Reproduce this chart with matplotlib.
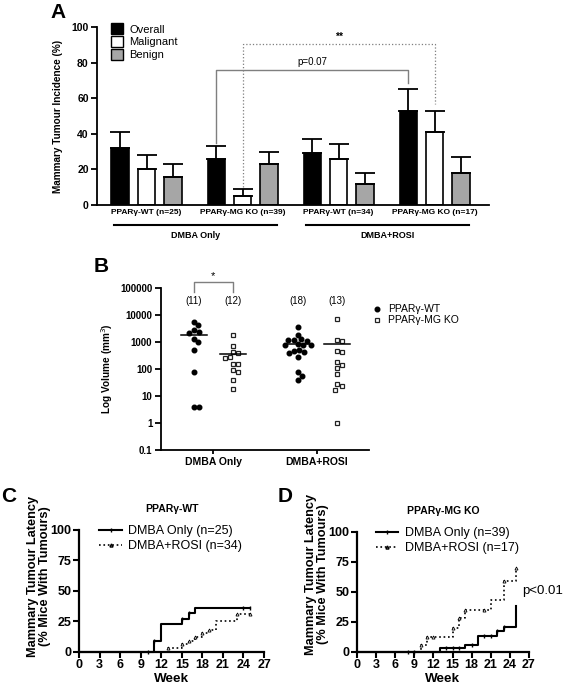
import numpy as np
import matplotlib
matplotlib.use('Agg')
import matplotlib.pyplot as plt
from matplotlib.patches import Patch
from matplotlib.lines import Line2D
from matplotlib.ticker import LogLocator, NullFormatter

plt.rcParams['font.family'] = ['Liberation Sans', 'DejaVu Sans']

# ---------------- DATA ----------------
# Panel A
groups_A = ['PPARγ-WT (n=25)', 'PPARγ-MG KO (n=39)', 'PPARγ-WT (n=34)', 'PPARγ-MG KO (n=17)']
treat_A = ['DMBA Only', 'DMBA+ROSI']
overall = [32, 26, 29, 53]
overall_err = [9, 7, 8, 12]
malignant = [20, 5, 26, 41]
malignant_err = [8, 4, 8, 12]
benign = [16, 23, 12, 18]
benign_err = [7, 7, 6, 9]

# Panel B (tumour volumes, mm^3)
wt_dmba = [5500, 4100, 2860, 2350, 2150, 1320, 1000, 490, 75, 3.9, 3.9]
ko_dmba = [1750, 700, 430, 390, 280, 255, 150, 150, 93, 75, 40, 18]
wt_rosi = [3500, 1750, 1200, 1150, 1100, 1250, 800, 780, 820, 760, 520, 480,
           380, 420, 270, 75, 55, 40]
ko_rosi = [6900, 1150, 1100, 470, 440, 178, 145, 110, 63, 27, 23, 17, 1.0]
n_labels_B = ['(11)', '(12)', '(18)', '(13)']
treat_B = ['DMBA Only', 'DMBA+ROSI']

# Panel C (PPARγ-WT latency)
C_only_weeks = [0, 11, 12, 15, 16, 17, 25]
C_only_pct = [0, 9, 23, 27, 32, 36, 36]
C_only_cens = [10, 11, 15, 16, 24, 25]
C_rosi_weeks = [0, 13, 15, 16, 17, 18, 19, 20, 23, 25]
C_rosi_pct = [0, 3, 6, 9, 12, 15, 18, 25, 31, 31]
C_rosi_cens = [13, 15, 16, 17, 18, 19, 23, 25]

# Panel D (PPARγ-MG KO latency)
D_only_weeks = [0, 13, 17, 19, 22, 23, 25]
D_only_pct = [0, 3, 6, 13, 17, 21, 38]
D_only_cens = [8, 9, 14, 15, 16, 18, 20, 21, 22, 23]
D_rosi_weeks = [0, 10, 11, 15, 16, 17, 21, 23, 25]
D_rosi_pct = [0, 6, 12, 20, 28, 35, 43, 59, 70]
D_rosi_cens = [10, 11, 12, 15, 16, 17, 20, 23, 25]

# ---------------- FIGURE ----------------
W, H = 567, 687
fig = plt.figure(figsize=(W / 100, H / 100), dpi=100)


def rect(l, t, r, b):
    return [l / W, 1 - b / H, (r - l) / W, (b - t) / H]


def ftext(x, y, s, **kw):
    kw.setdefault('ha', 'center')
    kw.setdefault('va', 'center')
    fig.text(x / W, 1 - y / H, s, **kw)


def style_axes(ax, lw=1.3):
    for s in ['top', 'right']:
        ax.spines[s].set_visible(False)
    for s in ['left', 'bottom']:
        ax.spines[s].set_linewidth(lw)


# ================= Panel A =================
axA = fig.add_axes(rect(97, 27, 489, 205))
xg = np.arange(len(groups_A))
off, bw = 0.274, 0.182
series = [(overall, overall_err, 'black', 'Overall'),
          (malignant, malignant_err, 'white', 'Malignant'),
          (benign, benign_err, '#a6a6a6', 'Benign')]
for k, (vals, err, col, lab) in enumerate(series):
    axA.bar(xg + (k - 1) * off, vals, bw, color=col, edgecolor='black', linewidth=1.2,
            yerr=[np.zeros(len(vals)), err], capsize=7,
            error_kw=dict(elinewidth=1.3, capthick=1.3, ecolor='black'), zorder=2)
axA.set_xlim(-0.516, 3.567)
axA.set_ylim(0, 100)
axA.set_yticks(np.arange(0, 101, 20))
axA.set_xticks(xg)
axA.set_xticklabels(groups_A, fontsize=6, fontweight='bold')
axA.tick_params(axis='x', length=0, pad=3)
axA.tick_params(axis='y', length=4, width=1.3, labelsize=7.5, pad=2)
for t in axA.get_yticklabels():
    t.set_fontweight('bold')
style_axes(axA)

# brackets
g1 = xg[1] - off
g3 = xg[3] - off
axA.plot([g1, g1, g3, g3], [35, 76, 76, 68.5], color='#7f7f7f', lw=1.0, clip_on=False)
axA.text((g1 + g3) / 2, 77.5, 'p=0.07', ha='center', va='bottom', fontsize=7)
m1 = xg[1]
m3 = xg[3]
axA.plot([m1, m1, m3, m3], [10, 90.5, 90.5, 57], color='#7f7f7f', lw=0.9, ls=':', clip_on=False)
axA.text((m1 + m3) / 2, 91.5, '**', ha='center', va='bottom', fontsize=7.5, fontweight='bold')

# legend
hA = [Patch(facecolor=c, edgecolor='black', linewidth=1.0, label=l) for _, _, c, l in series]
axA.legend(handles=hA, loc='upper left', bbox_to_anchor=(0.035, 1.02), frameon=False,
           fontsize=8, handlelength=1.15, handleheight=1.15, labelspacing=0.12,
           handletextpad=0.5, borderaxespad=0, borderpad=0)

# treatment lines
trans = axA.get_xaxis_transform()
for i, t in enumerate(treat_A):
    a = xg[2 * i] - 0.34
    b = xg[2 * i + 1] + 0.36
    axA.plot([a, b], [-0.112, -0.112], color='black', lw=1.5, transform=trans, clip_on=False)
    axA.text((a + b) / 2, -0.174, t, transform=trans, ha='center', va='center',
             fontsize=6.5, fontweight='bold')

axA.set_ylabel('Mammary Tumour Incidence (%)', fontsize=7.2, fontweight='bold', labelpad=6)

# ================= Panel B =================
axB = fig.add_axes(rect(160.7, 288, 369, 450))
axB.set_yscale('log')
axB.set_ylim(0.1, 1e5)
axB.set_xlim(-0.503, 1.5)
PX_PER_UNIT = 104.0
PX_PER_DEC = 27.0


def swarm(vals, d_px):
    ys = np.log10(np.asarray(vals, float)) * PX_PER_DEC
    order = np.argsort(-ys, kind='stable')
    xs = np.zeros(len(ys))
    placed = []
    for i in order:
        cands = [0.0]
        for j in placed:
            dy = ys[i] - ys[j]
            if abs(dy) < d_px:
                dx = np.sqrt(d_px ** 2 - dy ** 2)
                cands += [xs[j] + dx, xs[j] - dx]
        cands.sort(key=abs)
        for c in cands:
            if all((c - xs[j]) ** 2 + (ys[i] - ys[j]) ** 2 >= d_px ** 2 - 1e-6 for j in placed):
                xs[i] = c
                break
        placed.append(i)
    return xs / PX_PER_UNIT


sets_B = [(wt_dmba, -0.1875, 'wt'), (ko_dmba, 0.1875, 'ko'),
          (wt_rosi, 1 - 0.1875, 'wt'), (ko_rosi, 1 + 0.1875, 'ko')]
for (vals, cx, kind), nl in zip(sets_B, n_labels_B):
    xs = swarm(vals, 5.6) + cx
    if kind == 'wt':
        axB.plot(xs, vals, 'o', ms=3.3, color='black', mec='black', ls='none', clip_on=False, zorder=3)
    else:
        axB.plot(xs, vals, 's', ms=3.4, mfc='white', mec='#222222', mew=0.9, ls='none',
                 clip_on=False, zorder=3)
    m = np.mean(vals)
    axB.plot([cx - 0.125, cx + 0.125], [m, m], color='black', lw=1.1, zorder=4)
    axB.text(cx, 3.3e4, nl, ha='center', va='center', fontsize=7)

# significance bracket
axB.plot([sets_B[0][1], sets_B[0][1], sets_B[1][1], sets_B[1][1]], [7e4, 1.67e5, 1.67e5, 7e4],
         color='#7f7f7f', lw=1.0, clip_on=False)
axB.text(0, 2.7e5, '*', ha='center', va='center', fontsize=8)

yt = [0.1, 1, 10, 100, 1000, 10000, 100000]
axB.set_yticks(yt)
axB.set_yticklabels(['0.1', '1', '10', '100', '1000', '10000', '100000'], fontsize=7, fontweight='bold')
axB.yaxis.set_minor_locator(LogLocator(base=10, subs=np.arange(2, 10)))
axB.yaxis.set_minor_formatter(NullFormatter())
axB.tick_params(axis='y', which='major', length=4, width=1.3, pad=2)
axB.tick_params(axis='y', which='minor', length=2.2, width=0.8)
axB.set_xticks([0, 1])
axB.set_xticklabels(treat_B, fontsize=7.5, fontweight='bold')
axB.tick_params(axis='x', length=3, width=1.3, pad=2)
style_axes(axB)
axB.set_ylabel('Log Volume (mm$^3$)', fontsize=7.2, fontweight='bold', labelpad=4)

hB = [Line2D([], [], marker='o', ls='none', color='black', ms=3.3, label='PPARγ-WT'),
      Line2D([], [], marker='s', ls='none', mfc='white', mec='#222222', mew=0.9, ms=3.4,
             label='PPARγ-MG KO')]
axB.legend(handles=hB, loc='upper left', bbox_to_anchor=(1.02, 0.9), frameon=False,
           fontsize=7.5, handlelength=0.8, handletextpad=0.6, labelspacing=0.1,
           borderaxespad=0, borderpad=0)


# ================= Panels C & D =================
def step_val(weeks, pct, t):
    idx = np.searchsorted(weeks, t, side='right') - 1
    return np.asarray(pct)[idx]


def km_panel(box, only_w, only_p, only_c, rosi_w, rosi_p, rosi_c, labels, title):
    ax = fig.add_axes(rect(*box))
    ax.step(only_w, only_p, where='post', color='black', lw=1.5, clip_on=False, zorder=3)
    ax.step(rosi_w, rosi_p, where='post', color='black', lw=1.2, ls=':', clip_on=False, zorder=3)
    ax.plot(only_c, step_val(only_w, only_p, only_c), ls='none', marker='|', ms=3.5, mew=1.0,
            color='black', clip_on=False, zorder=4)
    ax.plot(rosi_c, step_val(rosi_w, rosi_p, rosi_c), ls='none', marker='^', ms=2.2, mew=0.6,
            mfc='white', mec='black', clip_on=False, zorder=4)
    ax.set_xlim(0, 27)
    ax.set_ylim(0, 100)
    ax.set_xticks(np.arange(0, 28, 3))
    ax.set_yticks([0, 25, 50, 75, 100])
    ax.tick_params(length=4, width=1.5, labelsize=9, pad=1.5)
    for t in ax.get_xticklabels() + ax.get_yticklabels():
        t.set_fontweight('bold')
    style_axes(ax, 1.6)
    ax.set_xlabel('Week', fontsize=9.7, fontweight='bold', labelpad=1)
    ax.set_title(title, fontsize=7.5, fontweight='bold', pad=13)
    h = [Line2D([], [], color='black', lw=1.5, marker='|', ms=3.5, label=labels[0]),
         Line2D([], [], color='black', lw=1.2, ls=':', marker='^', ms=2.2, mfc='white',
                label=labels[1])]
    ax.legend(handles=h, loc='upper left', bbox_to_anchor=(0.11, 1.04), frameon=False,
              fontsize=9, handlelength=1.8, handletextpad=0.5, labelspacing=0.25,
              borderaxespad=0, borderpad=0)
    return ax


axC = km_panel((79, 530, 264, 651.7), C_only_weeks, C_only_pct, C_only_cens,
               C_rosi_weeks, C_rosi_pct, C_rosi_cens,
               ['DMBA Only (n=25)', 'DMBA+ROSI (n=34)'], 'PPARγ-WT')
axD = km_panel((357, 531.7, 529, 651.7), D_only_weeks, D_only_pct, D_only_cens,
               D_rosi_weeks, D_rosi_pct, D_rosi_cens,
               ['DMBA Only (n=39)', 'DMBA+ROSI (n=17)'], 'PPARγ-MG KO')
axD.text(26.0, 51, 'p<0.01', ha='left', va='center', fontsize=9.5, clip_on=False)

ylab = 'Mammary Tumour Latency\n(% Mice With Tumours)'
ftext(39, 576, ylab, rotation=90, fontsize=9.2, fontweight='bold', linespacing=1.0)
ftext(317, 574, ylab, rotation=90, fontsize=9.2, fontweight='bold', linespacing=1.0)

# panel letters
ftext(58, 12, 'A', fontsize=15, fontweight='bold')
ftext(101, 267, 'B', fontsize=15, fontweight='bold')
ftext(9, 497, 'C', fontsize=15, fontweight='bold')
ftext(285, 497, 'D', fontsize=15, fontweight='bold')

fig.savefig('out.png', dpi=100)
